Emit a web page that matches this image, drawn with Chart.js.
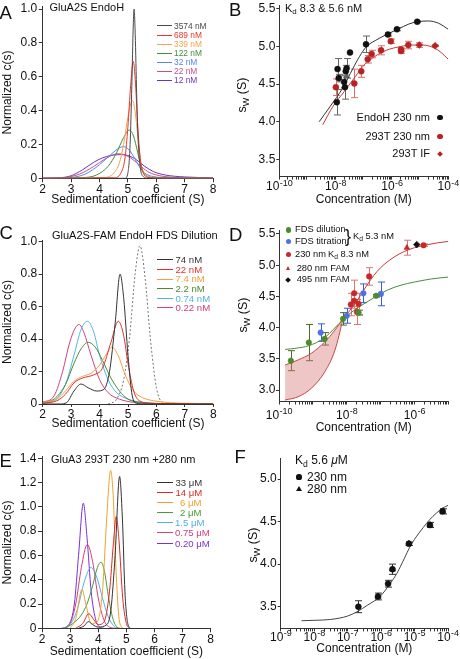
<!DOCTYPE html>
<html>
<head>
<meta charset="utf-8">
<script src="https://cdn.jsdelivr.net/npm/chart.js@4.4.0/dist/chart.umd.min.js"></script>
<style>
html, body { margin: 0; padding: 0; background: #fff; }
#fig { position: relative; width: 460px; height: 659px; overflow: hidden;
       font-family: "Liberation Sans", Arial, Helvetica, sans-serif; color: #111; }
#fig canvas { position: absolute; }
.t { position: absolute; white-space: nowrap; line-height: 1; }
.sub { font-size: 0.72em; position: relative; top: 0.32em; }
</style>
</head>
<body>
<div id="fig"></div>
<script>
// ---------- data ----------

// A: GluA2S EndoH, c(s) curves as [s, c]
const aLabels = ['3574 nM', '689 nM', '339 nM', '122 nM', '32 nM', '22 nM', '12 nM'];
const aColors = ['#4a4a4a', '#e8362e', '#f2a452', '#3f8f3f', '#5585e6', '#c4508c', '#6c34c4'];
const a3574 = [[2,0],[4.9,0],[5.0,0.03],[5.08,0.2],[5.14,0.55],[5.19,0.9],[5.22,1.0],[5.26,0.85],[5.31,0.5],[5.37,0.2],[5.45,0.05],[5.55,0.01],[5.7,0],[8,0]];
const a689 = [[2,0],[4.5,0.003],[4.75,0.03],[4.9,0.12],[5.0,0.3],[5.1,0.55],[5.19,0.69],[5.27,0.56],[5.35,0.3],[5.45,0.1],[5.55,0.03],[5.7,0.005],[6.5,0],[8,0]];
const a339 = [[2,0],[4.2,0.005],[4.5,0.03],[4.7,0.09],[4.85,0.2],[5.0,0.36],[5.1,0.44],[5.16,0.46],[5.25,0.4],[5.35,0.25],[5.45,0.1],[5.55,0.04],[5.7,0.01],[6.2,0],[8,0]];
const a122 = [[2,0],[3.5,0.005],[3.9,0.02],[4.3,0.07],[4.6,0.15],[4.85,0.24],[5.05,0.285],[5.2,0.25],[5.35,0.15],[5.5,0.05],[5.65,0.015],[6.0,0.003],[8,0]];
const a32 = [[2,0],[3.0,0.005],[3.5,0.025],[4.0,0.08],[4.4,0.14],[4.7,0.18],[4.84,0.187],[5.0,0.175],[5.2,0.13],[5.4,0.07],[5.6,0.03],[5.9,0.01],[6.5,0.003],[8,0]];
const a22 = [[2,0],[2.8,0.005],[3.3,0.025],[3.8,0.07],[4.2,0.115],[4.5,0.14],[4.65,0.145],[4.85,0.14],[5.1,0.12],[5.4,0.08],[5.7,0.04],[6.0,0.02],[6.5,0.007],[7.5,0.002],[8,0.001]];
const a12 = [[2,0],[2.6,0.003],[3.0,0.015],[3.4,0.05],[3.8,0.095],[4.1,0.12],[4.4,0.135],[4.75,0.14],[5.0,0.135],[5.3,0.11],[5.6,0.07],[5.9,0.04],[6.3,0.02],[7.0,0.008],[8,0.003]];
const aCurves = [a3574, a689, a339, a122, a32, a22, a12];

// C: GluA2S-FAM EndoH FDS dilution
const cLabels = ['74 nM', '22 nM', '7.4 nM', '2.2 nM', '0.74 nM', '0.22 nM'];
const cColors = ['#333333', '#e03030', '#f0a040', '#4a8a30', '#50b4e8', '#d04080'];
const c74 = [[2,0],[2.6,0],[2.85,0.01],[3.1,0.08],[3.35,0.123],[3.6,0.1],[3.9,0.08],[4.15,0.09],[4.35,0.2],[4.55,0.5],[4.72,0.8],[4.85,0.65],[5.0,0.3],[5.15,0.05],[5.3,0.005],[5.6,0],[8,0]];
const c22 = [[2,0.005],[2.5,0.02],[2.8,0.06],[3.1,0.13],[3.4,0.16],[3.8,0.18],[4.1,0.22],[4.4,0.38],[4.66,0.51],[4.85,0.42],[5.0,0.25],[5.2,0.08],[5.4,0.02],[5.8,0.005],[6.5,0.002],[8,0]];
const c7p4 = [[2,0.01],[2.5,0.03],[2.8,0.08],[3.1,0.14],[3.4,0.17],[3.7,0.19],[4.0,0.24],[4.25,0.31],[4.43,0.35],[4.65,0.3],[4.9,0.18],[5.2,0.08],[5.5,0.04],[5.9,0.02],[6.5,0.008],[8,0.002]];
const c2p2 = [[2,0.01],[2.4,0.03],[2.8,0.12],[3.1,0.25],[3.35,0.34],[3.6,0.38],[3.85,0.35],[4.1,0.27],[4.4,0.16],[4.7,0.08],[5.0,0.03],[5.4,0.01],[6,0.003],[8,0]];
const c0p74 = [[2,0.005],[2.4,0.02],[2.8,0.12],[3.1,0.3],[3.35,0.46],[3.58,0.51],[3.8,0.44],[4.0,0.3],[4.3,0.15],[4.6,0.07],[5.0,0.03],[5.5,0.01],[6,0.003],[8,0]];
const c0p22 = [[2,0.01],[2.4,0.05],[2.7,0.2],[2.95,0.38],[3.15,0.47],[3.28,0.49],[3.45,0.44],[3.7,0.3],[4.0,0.15],[4.3,0.07],[4.7,0.03],[5.2,0.01],[6,0.003],[8,0]];
const cDotted = [[4.3,0],[4.6,0.03],[4.85,0.15],[5.05,0.4],[5.25,0.8],[5.42,0.975],[5.6,0.78],[5.8,0.38],[6.0,0.1],[6.2,0.01],[6.4,0]];
const cCurves = [c74, c22, c7p4, c2p2, c0p74, c0p22];

// E: GluA3 293T
const eLabels = ['33 μM', '14 μM', '6 μM', '2 μM', '1.5 μM', '0.75 μM', '0.20 μM'];
const eColors = ['#333333', '#e02828', '#f0a030', '#4a9a3a', '#50b0e8', '#d0407a', '#7a30d8'];
const e33 = [[3.3,0],[3.5,0.02],[3.65,0.055],[3.8,0.03],[4.0,0.01],[4.3,0.03],[4.45,0.15],[4.6,0.6],[4.76,1.25],[4.86,0.9],[4.95,0.3],[5.05,0.04],[5.15,0]];
const e14 = [[3.2,0],[3.45,0.04],[3.66,0.12],[3.85,0.07],[4.0,0.03],[4.2,0.05],[4.4,0.3],[4.54,0.7],[4.64,0.92],[4.74,0.72],[4.87,0.25],[5.0,0.04],[5.1,0]];
const e6 = [[3.0,0],[3.2,0.08],[3.42,0.32],[3.56,0.2],[3.75,0.04],[3.95,0.05],[4.15,0.3],[4.3,0.9],[4.44,1.3],[4.53,1.1],[4.63,0.5],[4.73,0.1],[4.85,0]];
const e2 = [[2.8,0],[3.1,0.04],[3.4,0.11],[3.6,0.2],[3.8,0.35],[3.97,0.5],[4.1,0.545],[4.22,0.47],[4.37,0.25],[4.52,0.08],[4.67,0.01],[4.8,0]];
const e1p5 = [[2.8,0],[3.0,0.03],[3.25,0.15],[3.5,0.38],[3.74,0.5],[3.95,0.42],[4.15,0.25],[4.35,0.1],[4.55,0.02],[4.7,0]];
const e0p75 = [[2.8,0],[3.0,0.04],[3.2,0.2],[3.4,0.5],[3.61,0.69],[3.8,0.55],[4.0,0.25],[4.2,0.07],[4.4,0.01],[4.6,0]];
const e0p20 = [[2.7,0],[2.95,0.03],[3.15,0.2],[3.3,0.6],[3.47,1.03],[3.6,0.75],[3.75,0.3],[3.9,0.08],[4.05,0.01],[4.2,0]];
const eCurves = [e33, e14, e6, e2, e1p5, e0p75, e0p20];

const sXTicks = [2, 3, 4, 5, 6, 7, 8];
const sXTickLabels = ['2', '3', '4', '5', '6', '7', '8'];
const aYTicks = [0, 0.2, 0.4, 0.6, 0.8, 1.0];
const aYTickLabels = ['0', '0.2', '0.4', '0.6', '0.8', '1.0'];
const eYTicks = [0, 0.2, 0.4, 0.6, 0.8, 1.0, 1.2, 1.4];
const eYTickLabels = ['0', '0.2', '0.4', '0.6', '0.8', '1.0', '1.2', '1.4'];

// B: sw vs concentration
const bEndoConc = [1.1e-8, 1.29e-8, 1.17e-8, 2.0e-8, 2.14e-8, 2.29e-8, 2.45e-8, 3.24e-8, 1.2e-7, 7.2e-7, 1.5e-6, 7.9e-6];
const bEndoSw = [4.26, 4.58, 4.70, 4.53, 4.46, 4.67, 4.71, 4.92, 5.03, 5.16, 5.23, 5.33];
const bEndoErr = [0.17, 0.05, 0.14, 0.08, 0.16, 0.08, 0.13, 0, 0.11, 0.02, 0.02, 0.01];
const bRedConc = [1.02e-8, 4.6e-8, 8.1e-8, 1.38e-7, 1.9e-7, 4.1e-7, 9.1e-7, 2.1e-6, 2.1e-6, 3.8e-6];
const bRedSw = [4.46, 4.51, 4.67, 4.83, 4.90, 4.95, 5.07, 4.94, 4.96, 5.02];
const bRedErr = [0.11, 0.19, 0.08, 0.05, 0.05, 0.06, 0.03, 0.03, 0.02, 0.05];
const bIfConc = [9.3e-6, 3.4e-5];
const bIfSw = [5.02, 5.01];
const bIfErr = [0.03, 0.01];
const bEndoFit = [[2.6e-9,4.0],[6.3e-9,4.2],[1.86e-8,4.46],[4e-8,4.7],[7.1e-8,4.87],[1.26e-7,5.0],[3.2e-7,5.1],[7.2e-7,5.17],[1.6e-6,5.23],[4e-6,5.3],[7.9e-6,5.33],[2e-5,5.34],[4.5e-5,5.31],[1e-4,5.23]];
const bRedFit = [[3.5e-9,3.96],[7.9e-9,4.2],[2e-8,4.4],[5e-8,4.6],[1e-7,4.75],[2.5e-7,4.87],[6.3e-7,4.95],[2e-6,5.0],[5e-6,5.02],[1.26e-5,5.02],[3.2e-5,4.98],[5.6e-5,4.92],[1e-4,4.83]];
const bLegend = ['EndoH 230 nm', '293T 230 nm', '293T IF'];
const bXTicks = [1e-10, 1e-8, 1e-6, 1e-4];
const bXTickExps = ['-10', '-8', '-6', '-4'];
const bYTicks = [3.5, 4.0, 4.5, 5.0, 5.5];
const bYTickLabels = ['3.5', '4.0', '4.5', '5.0', '5.5'];

// D: FDS dilution / titration
const dDilConc = [2.24e-10, 7.6e-10, 2.24e-9, 7.8e-9, 2.24e-8, 7.4e-8];
const dDilSw = [3.47, 3.76, 3.82, 4.14, 4.24, 4.51];
const dDilErr = [0.16, 0.29, 0.1, 0.1, 0.04, 0.02];
const dTitConc = [1.7e-9, 1.0e-8, 3.1e-8, 1.02e-7];
const dTitSw = [3.92, 4.19, 4.55, 4.54];
const dTitErr = [0.14, 0.12, 0.15, 0.19];
const dRedConc = [1.32e-8, 1.66e-8, 1.66e-8, 2.0e-8, 2.24e-8, 4.6e-8, 1.86e-6];
const dRedSw = [4.37, 4.55, 4.43, 4.25, 4.38, 4.82, 5.32];
const dRedErr = [0.18, 0.21, 0.12, 0.2, 0.17, 0.14, 0.02];
const dTriConc = [6.0e-7];
const dTriSw = [5.28];
const dTriErr = [0.12];
const dBlkConc = [1.17e-6];
const dBlkSw = [5.33];
const dDilFit = [[1.51e-10,3.65],[3.2e-10,3.67],[7.6e-10,3.71],[2.24e-9,3.84],[7.8e-9,4.13],[1.58e-8,4.27],[3.2e-8,4.38],[7.4e-8,4.5],[1.58e-7,4.6],[4e-7,4.68],[1e-6,4.73],[3.2e-6,4.78],[1e-5,4.81]];
const dRedFit = [[7.8e-9,4.14],[1.26e-8,4.28],[2e-8,4.43],[3.2e-8,4.6],[5e-8,4.76],[7.9e-8,4.9],[1.26e-7,5.01],[2.5e-7,5.13],[5e-7,5.22],[1e-6,5.28],[2.5e-6,5.33],[5e-6,5.36],[1e-5,5.38]];
const dBandHi = [[1.51e-10,3.40],[3.6e-10,3.48],[9.1e-10,3.59],[2.24e-9,3.77],[4.5e-9,3.96],[7.8e-9,4.14]];
const dBandLo = [[1.51e-10,2.84],[3.6e-10,2.89],[9.1e-10,3.03],[2.24e-9,3.29],[4.5e-9,3.64],[7.8e-9,4.14]];
const dLegend = ['FDS dilution', 'FDS titration', '230 nm', '280 nm FAM', '495 nm FAM'];
const dXTicks = [1e-10, 1e-9, 1e-8, 1e-7, 1e-6, 1e-5];
const dXTickExps = ['-10', '', '-8', '', '-6', ''];
const dYTicks = [3.0, 3.5, 4.0, 4.5, 5.0, 5.5];
const dYTickLabels = ['3.0', '3.5', '4.0', '4.5', '5.0', '5.5'];

// F: GluA3
const fConc = [2.09e-7, 8.1e-7, 1.62e-6, 2.19e-6, 6.76e-6, 2.88e-5, 6.9e-5];
const f230Sw = [3.50, 3.62, 3.77, 3.94, 4.24, 4.46, 4.62];
const f230Err = [0.07, 0.04, 0.04, 0.06, 0.02, 0.03, 0.03];
const f280Conc = [8.1e-7, 2.19e-6, 6.76e-6, 2.88e-5, 6.9e-5];
const f280Sw = [3.62, 3.94, 4.24, 4.46, 4.62];
const fFit = [[4.2e-9,3.335],[1e-8,3.34],[3.1e-8,3.35],[1e-7,3.39],[1.9e-7,3.44],[4e-7,3.52],[9.3e-7,3.62],[1.78e-6,3.76],[2.95e-6,3.89],[5e-6,4.07],[7.2e-6,4.2],[1.12e-5,4.32],[1.82e-5,4.43],[2.8e-5,4.52],[4.5e-5,4.6],[7.1e-5,4.66],[1e-4,4.69]];
const fXTicks = [1e-9, 1e-8, 1e-7, 1e-6, 1e-5, 1e-4];
const fXTickExps = ['-9', '-8', '-7', '-6', '-5', '-4'];
const fYTicks = [3.5, 4.0, 4.5, 5.0];
const fYTickLabels = ['3.5', '4.0', '4.5', '5.0'];

// ---------- helpers ----------
const FAM = '"Liberation Sans", Arial, Helvetica, sans-serif';
Chart.defaults.font.family = FAM;
Chart.defaults.font.size = 12;
Chart.defaults.color = '#111';
const fig = document.getElementById('fig');

// vertical error bars with caps, drawn under the markers
const errorBars = {
  id: 'errorBars',
  beforeDatasetsDraw(chart) {
    const ctx = chart.ctx, xs = chart.scales.x, ys = chart.scales.y;
    chart.data.datasets.forEach(ds => {
      if (!ds.errs) return;
      ctx.save();
      ctx.strokeStyle = ds.errColor;
      ctx.lineWidth = 1;
      ds.data.forEach((p, i) => {
        const e = ds.errs[i];
        if (!e) return;
        const px = Math.round(xs.getPixelForValue(p.x)) + 0.5;
        const y1 = ys.getPixelForValue(p.y + e), y2 = ys.getPixelForValue(p.y - e);
        ctx.beginPath();
        ctx.moveTo(px, y1); ctx.lineTo(px, y2);
        ctx.moveTo(px - 3.5, y1); ctx.lineTo(px + 3.5, y1);
        ctx.moveTo(px - 3.5, y2); ctx.lineTo(px + 3.5, y2);
        ctx.stroke();
      });
      ctx.restore();
    });
  }
};

// "10" with a raised exponent under the log ticks
const expLabels = {
  id: 'expLabels',
  afterDraw(chart, args, opts) {
    if (!opts.values) return;
    const ctx = chart.ctx, xs = chart.scales.x;
    ctx.save();
    ctx.fillStyle = '#111';
    ctx.textBaseline = 'alphabetic';
    ctx.textAlign = 'left';
    opts.values.forEach((v, i) => {
      const ex = opts.exps[i];
      if (!ex) return;
      ctx.font = '12px ' + FAM;
      const wb = ctx.measureText('10').width;
      ctx.font = '9px ' + FAM;
      const we = ctx.measureText(ex).width;
      const x0 = xs.getPixelForValue(v) - (wb + we) / 2;
      const y = xs.top + opts.base;
      ctx.font = '12px ' + FAM;
      ctx.fillText('10', x0, y);
      ctx.font = '9px ' + FAM;
      ctx.fillText(ex, x0 + wb + 0.3, y - 4.6);
    });
    ctx.restore();
  }
};

function minorLog(e0, e1) {
  const out = [];
  for (let e = e0; e < e1; e++) for (let k = 2; k <= 9; k++) out.push(k * Math.pow(10, e));
  return out;
}

function axis(o) {
  return {
    type: o.type || 'linear', min: o.min, max: o.max,
    grid: { drawOnChartArea: false, drawTicks: true, tickLength: o.tl, color: '#333', lineWidth: 1 },
    border: { display: true, color: '#333', width: 1 },
    ticks: {
      autoSkip: false, maxRotation: 0, minRotation: 0, padding: o.pad, color: '#111', font: { size: 12 },
      callback: v => { const i = o.labels ? o.ticks.indexOf(v) : -1; return i < 0 ? '' : o.labels[i]; }
    },
    afterBuildTicks: s => {
      s.ticks = o.ticks.concat(o.minor || []).sort((a, b) => a - b).map(v => ({ value: v }));
    },
    title: { display: !!o.title, text: o.title, color: '#111', font: { size: 12 }, padding: 0 }
  };
}

function curve(pts, color, dash) {
  return { data: pts.map(p => ({ x: p[0], y: p[1] })), borderColor: color, borderWidth: 1,
           borderDash: dash || [], pointRadius: 0, cubicInterpolationMode: 'monotone', fill: false };
}

function marks(xs, ys, color, style, r, errs, errColor) {
  return { data: xs.map((x, i) => ({ x: x, y: ys[i] })), showLine: false, pointStyle: style,
           pointRadius: r, pointBackgroundColor: color, pointBorderColor: color, pointBorderWidth: 0.5,
           errs: errs, errColor: errColor };
}

// box: chart area edges in page pixels, yw/xh: room for the axes
function panel(box, xCfg, yCfg, datasets, exp) {
  const cl = Math.floor(box.l - box.yw), ct = Math.floor(box.t - 12);
  const cr = Math.ceil(box.r + 15), cb = Math.ceil(box.b + box.xh);
  const cv = document.createElement('canvas');
  cv.width = cr - cl; cv.height = cb - ct;
  cv.style.left = cl + 'px'; cv.style.top = ct + 'px';
  fig.appendChild(cv);
  const yw = box.l - cl, xh = cb - box.b;
  xCfg.afterFit = s => { s.height = xh; };
  yCfg.afterFit = s => { s.width = yw; };
  return new Chart(cv, {
    type: 'line',
    data: { datasets: datasets },
    options: {
      responsive: false, animation: false,
      layout: { padding: { left: 0, top: box.t - ct, right: cr - box.r, bottom: 0 } },
      plugins: { legend: { display: false }, tooltip: { enabled: false }, expLabels: exp || {} },
      scales: { x: xCfg, y: yCfg }
    },
    plugins: [errorBars, expLabels]
  });
}

function put(html, x, cy, size, color, align) {
  const d = document.createElement('div');
  d.className = 't';
  d.innerHTML = html;
  d.style.fontSize = size + 'px';
  d.style.color = color || '#111';
  d.style.top = (cy - 0.4885 * size) + 'px';
  if (align === 'right') d.style.right = (460 - x) + 'px'; else d.style.left = x + 'px';
  fig.appendChild(d);
}

function vtitle(html, cx, cy, size) {
  const d = document.createElement('div');
  d.className = 't';
  d.innerHTML = html;
  d.style.fontSize = size + 'px';
  d.style.left = cx + 'px'; d.style.top = cy + 'px';
  d.style.transform = 'translate(-50%,-50%) rotate(-90deg)';
  fig.appendChild(d);
}

function swatch(x1, x2, cy, color) {
  const d = document.createElement('div');
  d.style.cssText = `position:absolute;left:${x1}px;top:${cy - 0.5}px;width:${x2 - x1}px;height:1px;background:${color}`;
  fig.appendChild(d);
}

function mark(shape, cx, cy, r, color) {
  const d = document.createElement('div');
  let css = 'position:absolute;';
  if (shape === 'circle') css += `left:${cx - r}px;top:${cy - r}px;width:${2 * r}px;height:${2 * r}px;border-radius:50%;background:${color}`;
  else if (shape === 'triangle') css += `left:${cx - r}px;top:${cy - r}px;width:0;height:0;border-left:${r}px solid transparent;border-right:${r}px solid transparent;border-bottom:${1.75 * r}px solid ${color}`;
  else { const s = r * 1.45; css += `left:${cx - s / 2}px;top:${cy - s / 2}px;width:${s}px;height:${s}px;background:${color};transform:rotate(45deg)`; }
  d.style.cssText = css;
  fig.appendChild(d);
}

const SED = 'Sedimentation coefficient (S)';
const CONC = 'Concentration (M)';
const SW = 's<span class="sub">W</span> (S)';
const KD = 'K<span class="sub">d</span>';

// ---------- A ----------
panel({ l: 42.7, t: 6.5, r: 213, b: 178.3, yw: 42.7, xh: 28.2 },
  axis({ min: 2, max: 8, ticks: sXTicks, labels: sXTickLabels, tl: 4, pad: 0, title: SED }),
  axis({ min: 0, max: 1.015, ticks: aYTicks, labels: aYTickLabels, tl: 4, pad: 1.5, title: 'Normalized c(s)' }),
  aCurves.map((c, i) => curve(c, aColors[i])));
put('A', -0.5, 12.7, 18.5);
put('GluA2S EndoH', 49.5, 7.8, 11);
aLabels.forEach((s, i) => {
  const cy = [25.7, 35, 44.3, 53.3, 62.3, 71, 80][i];
  swatch(157, 172, cy, aColors[i]);
  put(s, 174, cy, 8.4, aColors[i]);
});

// ---------- B ----------
panel({ l: 279.3, t: 5.2, r: 448.3, b: 176.6, yw: 40, xh: 30.2 },
  axis({ type: 'logarithmic', min: 1e-10, max: 1e-4, ticks: bXTicks, minor: minorLog(-10, -4), tl: 3, pad: 0, title: CONC }),
  axis({ min: 3.27, max: 5.55, ticks: bYTicks, labels: bYTickLabels, tl: 3, pad: 1 }),
  [
    marks(bEndoConc, bEndoSw, '#111', 'circle', 3, bEndoErr, '#666'),
    marks(bRedConc, bRedSw, '#b82222', 'circle', 3, bRedErr, '#d87070'),
    marks(bIfConc, bIfSw, '#b82222', 'rectRot', 3.5, bIfErr, '#d87070'),
    curve(bEndoFit, '#333'),
    curve(bRedFit, '#c03a3a')
  ],
  { values: bXTicks, exps: bXTickExps, base: 13.5 });
put('B', 229, 10.3, 18.5);
put(KD + ' 8.3 &amp; 5.6 nM', 285, 8.2, 11);
vtitle(SW, 242, 95, 12.5);
[117.3, 136.7, 153.7].forEach((cy, i) => {
  put(bLegend[i], 430, cy, 11, '#111', 'right');
  mark(i === 2 ? 'diamond' : 'circle', 440, cy, 2.8, i === 0 ? '#111' : '#b82222');
});

// ---------- C ----------
const cSets = cCurves.map((c, i) => curve(c, cColors[i]));
cSets.push(curve(cDotted, '#777', [2, 2]));
panel({ l: 42.7, t: 240, r: 213.3, b: 404, yw: 42.7, xh: 26.2 },
  axis({ min: 2, max: 8, ticks: sXTicks, labels: sXTickLabels, tl: 3, pad: 0, title: SED }),
  axis({ min: 0, max: 1.0105, ticks: aYTicks, labels: aYTickLabels, tl: 4, pad: 1.5, title: 'Normalized c(s)' }),
  cSets);
put('C', -0.5, 232.9, 18.5);
put('GluA2S-FAM EndoH FDS Dilution', 52, 235, 11);
cLabels.forEach((s, i) => {
  const cy = [259.3, 269.3, 279, 288.3, 298.3, 307.7][i];
  swatch(157, 173, cy, cColors[i]);
  put(s, 175.5, cy, 9.6, cColors[i]);
});

// ---------- D ----------
panel({ l: 279, t: 230.3, r: 448.3, b: 401.5, yw: 40, xh: 33.5 },
  axis({ type: 'logarithmic', min: 1e-10, max: 1e-5, ticks: dXTicks, minor: minorLog(-10, -5), tl: 3, pad: 0, title: CONC }),
  axis({ min: 2.816, max: 5.559, ticks: dYTicks, labels: dYTickLabels, tl: 3, pad: 0.5 }),
  [
    marks(dDilConc, dDilSw, '#4b8b2b', 'circle', 2.8, dDilErr, '#4f6a2a'),
    marks(dTitConc, dTitSw, '#4a72e6', 'circle', 2.8, dTitErr, '#3a5ad8'),
    marks(dBlkConc, dBlkSw, '#111', 'rectRot', 3.4, null, null),
    marks(dRedConc, dRedSw, '#c8282a', 'circle', 2.8, dRedErr, '#dc7474'),
    marks(dTriConc, dTriSw, '#c8282a', 'triangle', 3.4, dTriErr, '#dc7474'),
    curve(dDilFit, '#4b8b3b'),
    curve(dRedFit, '#c83a3a'),
    curve(dBandHi, '#c84848'),
    Object.assign(curve(dBandLo, '#c84848'), { fill: '-1', backgroundColor: 'rgba(214,120,120,0.42)' })
  ],
  { values: dXTicks, exps: dXTickExps, base: 17 });
put('D', 229, 235, 18.5);
vtitle(SW, 242.5, 315, 12.5);
[230, 241.7, 254.3, 268.3, 280].forEach((cy, i) => {
  const shape = ['circle', 'circle', 'circle', 'triangle', 'diamond'][i];
  const col = ['#4b8b2b', '#4a72e6', '#c8282a', '#c8282a', '#111'][i];
  mark(shape, 288.3, cy, 2.8, col);
  put(dLegend[i], i < 3 ? 295 : 296.7, cy, 9.3);
});
put(KD + ' 8.3 nM', 328, 254.3, 9.3);
put('}', 345, 235.5, 18);
put(KD + ' 5.3 nM', 353, 236.7, 9.3);

// ---------- E ----------
panel({ l: 42, t: 456.7, r: 210.7, b: 628.3, yw: 42, xh: 29.8 },
  axis({ min: 2, max: 8, ticks: sXTicks, labels: sXTickLabels, tl: 4, pad: 0.5, title: SED }),
  axis({ min: 0, max: 1.413, ticks: eYTicks, labels: eYTickLabels, tl: 4, pad: 1.5, title: 'Normalized c(s)' }),
  eCurves.map((c, i) => curve(c, eColors[i])));
put('E', -0.5, 461, 18.5);
put('GluA3 293T 230 nm +280 nm', 51, 459, 11);
eLabels.forEach((s, i) => {
  const cy = [482.7, 492.7, 502.7, 512.7, 522.3, 532.3, 543.3][i];
  swatch(157, 173, cy, eColors[i]);
  put(s, [175.5, 175.5, 180, 180, 175, 175, 175][i], cy, 9.6, eColors[i]);
});

// ---------- F ----------
panel({ l: 280.7, t: 458.6, r: 448, b: 628.4, yw: 40, xh: 26.7 },
  axis({ type: 'logarithmic', min: 1e-9, max: 1e-4, ticks: fXTicks, minor: minorLog(-9, -4), tl: 3, pad: 0, title: CONC }),
  axis({ min: 3.245, max: 5.24, ticks: fYTicks, labels: fYTickLabels, tl: 3, pad: 1 }),
  [
    marks(f280Conc, f280Sw, '#111', 'triangle', 3.6, null, null),
    marks(fConc, f230Sw, '#111', 'circle', 3, f230Err, '#333'),
    curve(fFit, '#444')
  ],
  { values: fXTicks, exps: fXTickExps, base: 12.5 });
put('F', 234.5, 457.3, 18.5);
put(KD + ' 5.6 <i>μ</i>M', 295, 460, 12);
vtitle(SW, 253, 545, 12.5);
mark('circle', 299, 477, 2.6, '#111');
put('230 nm', 307, 477, 12);
mark('triangle', 299, 489, 3, '#111');
put('280 nm', 307, 489, 12);
</script>
</body>
</html>
